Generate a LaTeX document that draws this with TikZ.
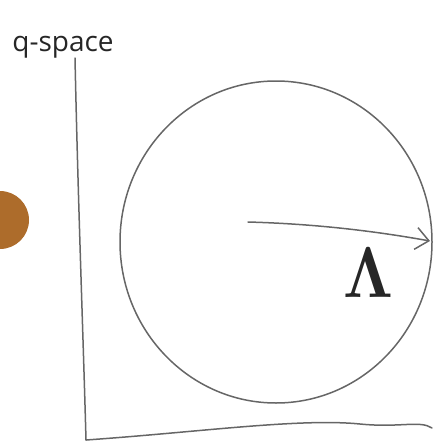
\documentclass[tikz,border=0pt]{standalone}
\usepackage[no-math]{fontspec}
\newfontfamily\handfont{Open Sans}
\usetikzlibrary{arrows.meta}

\begin{document}
\begin{tikzpicture}[
  x=1pt, y=-1pt,
  pen/.style={draw=black!60, line width=1.5pt, line cap=round},
  arr/.style={pen, -{Straight Barb[length=13pt, width=22pt, line width=1.5pt]}},
  lbl/.style={inner sep=0pt, text=black!85}
]
\useasboundingbox (0,0) rectangle (436,444);
% coin at the left edge
\begin{scope}
\clip (0,0) rectangle (436,444);
\fill[brown!80!orange!85!black] (0,220) circle (29);
\end{scope}
% axes
\draw[pen] (75,58) .. controls (78,200) and (83,330) .. (86,440);
\draw[pen] (86,440) .. controls (200,432) and (300,418) .. (360,424) .. controls (400,428) and (420,420) .. (432,428);
% sphere
\coordinate (c) at (276,242);
\draw[pen] (c) ellipse [x radius=156, y radius=161];
\coordinate (o) at (248,222);
\coordinate (r) at (430,241);
\draw[arr] (o) .. controls (320,224) and (380,232) .. (r);
% labels
\node[lbl, font=\handfont\fontsize{28}{28}\selectfont] (qs) at (63,47) {q-space};
\node[lbl, xscale=6.2, yscale=7.2] (lam) at (368,273) {$\mathbf{\Lambda}$};
\end{tikzpicture}
\end{document}
